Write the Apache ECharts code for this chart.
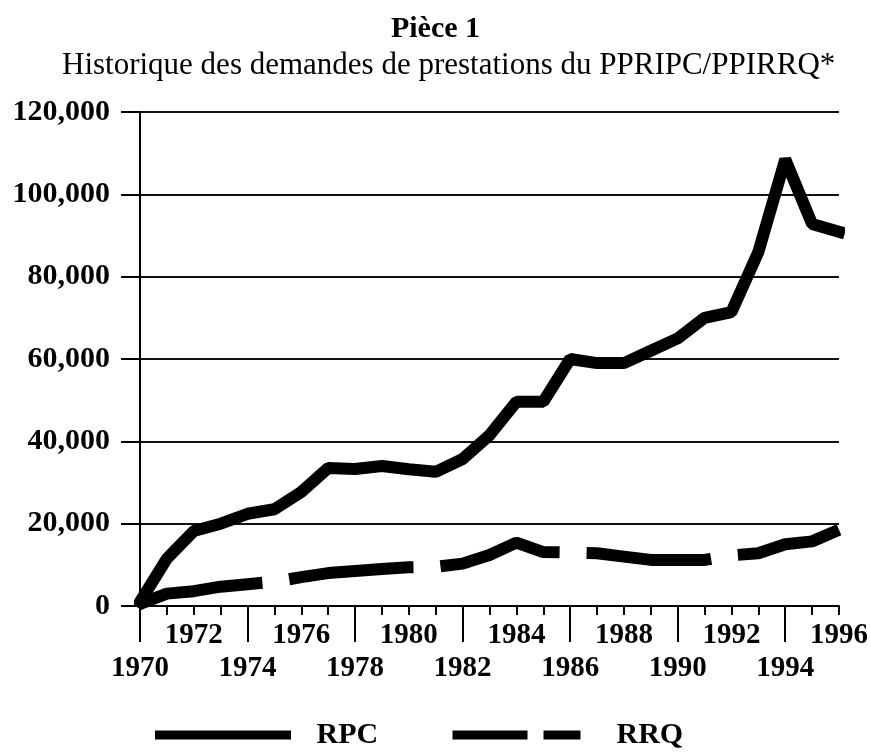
<!DOCTYPE html>
<html>
<head>
<meta charset="utf-8">
<script src="https://cdn.jsdelivr.net/npm/echarts@6/dist/echarts.min.js"></script>
<style>
html,body{margin:0;padding:0;background:#fff;}
#chart{width:871px;height:754px;}
</style>
</head>
<body>
<div id="chart"></div>
<script>
const years = [1970,1971,1972,1973,1974,1975,1976,1977,1978,1979,1980,1981,1982,1983,1984,1985,1986,1987,1988,1989,1990,1991,1992,1993,1994,1995,1996];
const rpc = [1000,11500,18200,20000,22400,23500,27700,33500,33300,34000,33200,32600,35700,41500,49600,49600,60000,59000,59000,62000,65000,70000,71400,86000,108500,92800,90900];
const rrq = [500,3000,3600,4700,5300,5900,7000,8000,8500,9000,9400,9500,10300,12400,15400,13100,13000,12800,12000,11200,11200,11200,12300,12800,15000,15700,18500];
const yTicks = [0,20000,40000,60000,80000,100000,120000];
const labelRow1 = [1972,1976,1980,1984,1988,1992,1996];
const labelRow2 = [1970,1974,1978,1982,1986,1990,1994];
const titleText = 'Pièce 1';
const subtitleText = 'Historique des demandes de prestations du PPRIPC/PPIRRQ*';

const FONT = 'Liberation Serif';
const fmt = v => String(v).replace(/\B(?=(\d{3})+(?!\d))/g, ',');

const chart = echarts.init(document.getElementById('chart'), null, {renderer:'canvas'});
chart.setOption({
  animation: false,
  backgroundColor: '#fff',
  title: [
    {text: titleText, left: 'center', top: 14, padding: 0,
     textStyle: {fontFamily: FONT, fontSize: 30, fontWeight: 'bold', color: '#000'}},
    {text: subtitleText, left: 62, top: 50, padding: 0,
     textStyle: {fontFamily: FONT, fontSize: 31, fontWeight: 'normal', color: '#000'}}
  ],
  legend: [
    {data: ['RPC'], left: 155, top: 720, padding: 0, itemWidth: 127, itemHeight: 9,
     lineStyle: {width: 9, type: 'solid', color: '#000'},
     itemStyle: {opacity: 0},
     textStyle: {fontFamily: FONT, fontSize: 30, fontWeight: 'bold', color: '#000', padding: [0,0,0,25]}},
    {data: ['RRQ'], left: 448, top: 720, padding: 0, itemWidth: 128, itemHeight: 9,
     lineStyle: {width: 9, type: [75,16], color: '#000'},
     itemStyle: {opacity: 0},
     textStyle: {fontFamily: FONT, fontSize: 30, fontWeight: 'bold', color: '#000', padding: [0,0,0,31]}}
  ],
  grid: {left: 140, right: 27, top: 112, bottom: 148},
  xAxis: [
    {type: 'value', min: 1970, max: 1996, interval: 1, position: 'bottom',
     axisLine: {show: true, lineStyle: {color: '#000', width: 2}},
     axisTick: {show: true, length: 9, lineStyle: {color: '#000', width: 2}},
     axisLabel: {margin: 15, fontFamily: FONT, fontSize: 29, fontWeight: 'bold', color: '#000',
       formatter: v => labelRow1.indexOf(v) >= 0 ? String(v) : ''},
     splitLine: {show: false}},
    {type: 'value', min: 1970, max: 1996, position: 'bottom', gridIndex: 0,
     axisLine: {show: false},
     axisTick: {show: true, length: 36, customValues: labelRow2, lineStyle: {color: '#000', width: 2}},
     axisLabel: {margin: 48, customValues: labelRow2, fontFamily: FONT, fontSize: 29, fontWeight: 'bold', color: '#000',
       formatter: v => String(v)},
     splitLine: {show: false}}
  ],
  yAxis: {
    type: 'value', min: yTicks[0], max: yTicks[yTicks.length-1], interval: 20000,
    axisLine: {show: true, lineStyle: {color: '#000', width: 2}},
    axisTick: {show: true, length: 19, lineStyle: {color: '#000', width: 2}},
    axisLabel: {margin: 30, fontFamily: FONT, fontSize: 30, fontWeight: 'bold', color: '#000', formatter: fmt},
    splitLine: {show: true, lineStyle: {color: '#111', width: 2}}
  },
  series: [
    {name: 'RPC', type: 'line', xAxisIndex: 0, symbol: 'none',
     data: years.map((y, i) => [y, rpc[i]]),
     itemStyle: {color: '#000'},
     lineStyle: {color: '#000', width: 12, cap: 'square', join: 'bevel'}},
    {name: 'RRQ', type: 'line', xAxisIndex: 0, symbol: 'none',
     data: years.map((y, i) => [y, rrq[i]]),
     itemStyle: {color: '#000'},
     lineStyle: {color: '#000', width: 12, type: [125, 27], cap: 'butt', join: 'bevel'}}
  ]
});
</script>
</body>
</html>
